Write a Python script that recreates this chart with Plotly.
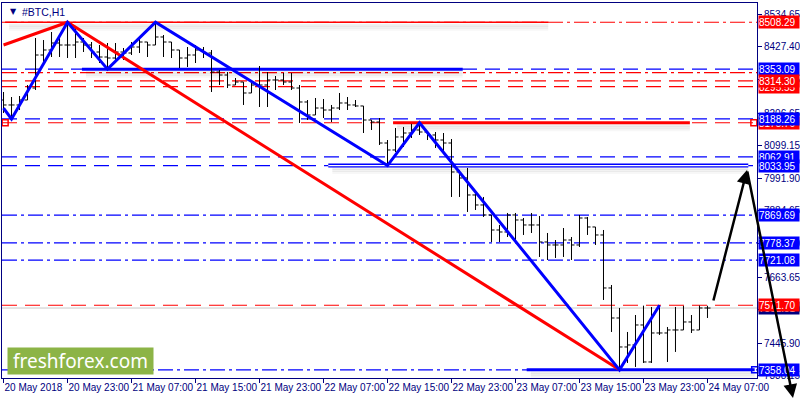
import pandas as pd
import plotly.graph_objects as go

# hourly BTC bars, 20 May 2018 15:00 .. 24 May 2018 07:00
times = pd.date_range("2018-05-20 15:00", periods=89, freq="h")

opens = [8251.0, 8234.5, 8234.5, 8251.0, 8290.7, 8399.9, 8416.5, 8439.6, 8433.0, 8433.0,
         8442.9, 8433.0, 8409.8, 8393.3, 8390.0, 8409.8, 8406.5, 8426.4, 8442.9, 8433.0,
         8459.5, 8442.9, 8416.5, 8390.0, 8399.9, 8416.5, 8406.5, 8343.6, 8333.7, 8300.6,
         8310.5, 8274.2, 8300.6, 8300.6, 8317.2, 8317.2, 8310.5, 8290.7, 8244.4, 8201.4,
         8224.5, 8217.9, 8224.5, 8241.1, 8234.5, 8231.2, 8184.8, 8178.2, 8108.7, 8085.6,
         8128.6, 8141.8, 8151.7, 8145.1, 8135.2, 8118.6, 8108.7, 8012.8, 7992.9, 7936.7,
         7903.6, 7870.5, 7820.8, 7814.2, 7870.5, 7853.9, 7837.4, 7837.4, 7781.1, 7771.2,
         7771.2, 7787.7, 7771.2, 7860.5, 7830.8, 7804.3, 7628.9, 7529.6, 7433.7, 7440.3,
         7506.5, 7384.0, 7480.0, 7480.0, 7489.9, 7489.9, 7516.4, 7489.9, 7562.7]
highs = [8277.5, 8260.9, 8264.2, 8300.6, 8456.2, 8449.5, 8476.0, 8466.1, 8508.29, 8489.2,
         8456.2, 8442.9, 8433.0, 8439.6, 8439.6, 8423.1, 8442.9, 8456.2, 8442.9, 8508.29,
         8466.1, 8442.9, 8416.5, 8426.4, 8433.0, 8426.4, 8416.5, 8350.3, 8343.6, 8323.8,
         8310.5, 8317.2, 8363.5, 8343.6, 8330.4, 8340.3, 8340.3, 8300.6, 8251.0, 8257.6,
         8254.3, 8234.5, 8274.2, 8260.9, 8251.0, 8231.2, 8184.8, 8191.4, 8118.6, 8158.4,
         8161.7, 8172.0, 8175.76, 8145.1, 8145.1, 8141.8, 8121.9, 8019.4, 8026.0, 7946.6,
         7930.1, 7870.5, 7837.4, 7877.1, 7877.1, 7860.5, 7877.1, 7867.2, 7810.9, 7787.7,
         7827.4, 7797.6, 7870.5, 7863.9, 7830.8, 7820.8, 7638.8, 7562.7, 7483.3, 7539.5,
         7570.5, 7566.0, 7571.70, 7499.8, 7566.0, 7569.8, 7539.5, 7570.9, 7570.2]
lows = [8208.0, 8188.26, 8217.9, 8251.0, 8284.1, 8366.8, 8393.3, 8393.3, 8390.0, 8390.0,
        8409.8, 8390.0, 8373.4, 8353.09, 8383.4, 8383.4, 8399.9, 8406.5, 8393.3, 8433.0,
        8393.3, 8390.0, 8356.9, 8360.2, 8373.4, 8390.0, 8277.5, 8300.6, 8290.7, 8300.6,
        8234.5, 8274.2, 8227.8, 8227.8, 8284.1, 8300.6, 8284.1, 8174.9, 8184.8, 8201.4,
        8191.4, 8178.2, 8217.9, 8217.9, 8227.8, 8141.8, 8151.7, 8102.1, 8033.95, 8078.9,
        8095.5, 8125.3, 8135.2, 8118.6, 8092.2, 8075.6, 7930.1, 7930.1, 7880.4, 7887.0,
        7863.9, 7781.1, 7781.1, 7797.6, 7781.1, 7804.3, 7810.9, 7731.5, 7721.5, 7728.2,
        7731.5, 7721.5, 7764.5, 7804.3, 7771.2, 7589.2, 7483.3, 7358.04, 7380.7, 7367.5,
        7380.7, 7380.7, 7473.4, 7384.0, 7417.2, 7489.9, 7480.0, 7489.9, 7529.6]
closes = [8234.5, 8234.5, 8251.0, 8290.7, 8399.9, 8416.5, 8439.6, 8433.0, 8433.0, 8442.9,
          8433.0, 8409.8, 8393.3, 8390.0, 8409.8, 8406.5, 8426.4, 8442.9, 8433.0, 8459.5,
          8442.9, 8416.5, 8390.0, 8399.9, 8416.5, 8406.5, 8343.6, 8333.7, 8300.6, 8310.5,
          8274.2, 8300.6, 8300.6, 8317.2, 8317.2, 8310.5, 8290.7, 8244.4, 8201.4, 8224.5,
          8217.9, 8224.5, 8241.1, 8234.5, 8231.2, 8184.8, 8178.2, 8108.7, 8085.6, 8128.6,
          8141.8, 8151.7, 8145.1, 8135.2, 8118.6, 8108.7, 8012.8, 7992.9, 7936.7, 7903.6,
          7870.5, 7820.8, 7814.2, 7870.5, 7853.9, 7837.4, 7837.4, 7781.1, 7771.2, 7771.2,
          7787.7, 7771.2, 7860.5, 7830.8, 7804.3, 7628.9, 7529.6, 7433.7, 7440.3, 7506.5,
          7384.0, 7480.0, 7480.0, 7489.9, 7489.9, 7516.4, 7489.9, 7562.7, 7562.51]

# zigzag swing points (bar index, price)
blue_zz_bars = [0, 1, 8, 13, 19, 48, 52, 77, 82]
blue_zz_prices = [8224.5, 8188.26, 8508.29, 8353.09, 8508.29, 8033.95, 8175.76, 7358.04, 7571.70]
red_zz_bars = [0, 8, 77]
red_zz_prices = [8433.0, 8508.29, 7358.04]

# horizontal levels: price, colour, dash
levels = [
    (8508.29, "#ff0000", "dashdot"), (8353.09, "#0000ff", "dash"), (8341.80, "#ff0000", "dashdot"),
    (8314.30, "#ff0000", "dash"), (8295.55, "#ff0000", "dash"), (8188.26, "#0000ff", "dash"),
    (8175.76, "#ff0000", "dash"), (8062.91, "#0000ff", "dash"), (8033.95, "#0000ff", "dash"),
    (7869.69, "#0000ff", "dashdot"), (7778.37, "#0000ff", "dashdot"), (7721.08, "#0000ff", "dashdot"),
    (7571.70, "#ff0000", "dash"), (7358.04, "#0000ff", "dashdot"),
]
bid = 7562.51

# price labels on the scale (drawn in this order, later on top)
price_labels = [
    (8295.55, "#ff0000"), (8175.76, "#ff0000"), (7562.51, "#000080"),
    (8508.29, "#ff0000"), (8353.09, "#0000ff"), (8314.30, "#ff0000"),
    (8188.26, "#0000ff"), (8062.91, "#0000ff"), (8033.95, "#0000ff"),
    (7869.69, "#0000ff"), (7778.37, "#0000ff"), (7721.08, "#0000ff"),
    (7571.70, "#ff0000"), (7358.04, "#0000ff"),
]

y_ticks = [8534.65, 8427.40, 8320.15, 8206.65, 8099.15, 7991.90, 7884.65, 7777.40,
           7663.65, 7556.40, 7445.90, 7338.15]
x_tick_bars = [0, 8, 16, 24, 32, 40, 48, 56, 64, 72, 80, 88]
x_tick_text = ["20 May 2018", "20 May 23:00", "21 May 07:00", "21 May 15:00", "21 May 23:00",
               "22 May 07:00", "22 May 15:00", "22 May 23:00", "23 May 07:00", "23 May 15:00",
               "23 May 23:00", "24 May 07:00"]

NAVY = "#000080"
FONT = "Liberation Sans"
Y0, Y1 = 7331.0, 8572.0
PLOT_H = 375
ppx = (Y1 - Y0) / PLOT_H


def t(h):
    return times[0] + pd.Timedelta(hours=h)


fig = go.Figure()

dash_map = {"dash": "15px,8px", "dashdot": "15px,4px,3px,4px"}
shapes = []
for price, col, d in levels:
    shapes.append(dict(type="line", xref="paper", x0=0, x1=1, yref="y", y0=price, y1=price,
                       line=dict(color=col, width=1.2, dash=dash_map[d]), layer="below"))
shapes.append(dict(type="line", xref="paper", x0=0, x1=1, yref="y", y0=bid, y1=bid,
                   line=dict(color="#c8c8c8", width=1), layer="below"))

# thick trend segments with a soft shadow
segments = [
    (0.2, 68.1, 8508.29, "#ff0000", 1.5),
    (9.8, 57.4, 8353.09, "#0000ff", 3),
    (48.7, 85.8, 8175.76, "#ff0000", 3),
    (40.6, 93.1, 8033.95, "#0000ff", 4),
    (65.4, 93.9, 7358.04, "#0000ff", 3),
]
for h0, h1, price, col, w in segments:
    for k, a in [(3, 0.06), (5, 0.05), (7, 0.03)]:
        shapes.append(dict(type="line", xref="x", yref="y", x0=t(h0 + 0.5), x1=t(h1),
                           y0=price - k * ppx, y1=price - k * ppx,
                           line=dict(color="rgba(0,0,0,%s)" % a, width=3), layer="below"))
    shapes.append(dict(type="line", xref="x", yref="y", x0=t(h0), x1=t(h1), y0=price, y1=price,
                       line=dict(color=col, width=w), layer="below"))
    if w == 4:
        shapes.append(dict(type="line", xref="x", yref="y", x0=t(h0), x1=t(h1), y0=price, y1=price,
                           line=dict(color="white", width=1.2), layer="below"))

fig.add_trace(go.Ohlc(x=times, open=opens, high=highs, low=lows, close=closes,
                      increasing_line_color="black", decreasing_line_color="black",
                      line_width=1, tickwidth=0.38, hoverinfo="skip", showlegend=False))

fig.add_trace(go.Scatter(x=[times[i] for i in red_zz_bars], y=red_zz_prices, mode="lines",
                         line=dict(color="#ff0000", width=3), hoverinfo="skip", showlegend=False))
fig.add_trace(go.Scatter(x=[times[i] for i in blue_zz_bars], y=blue_zz_prices, mode="lines",
                         line=dict(color="#0000ff", width=3), hoverinfo="skip", showlegend=False))

fig.add_trace(go.Scatter(x=[t(0.2), t(93.8)], y=[8175.76, 8175.76], mode="markers",
                         marker=dict(symbol="square-open", size=6, color="red", line=dict(width=1.5)),
                         cliponaxis=False, hoverinfo="skip", showlegend=False))
fig.add_trace(go.Scatter(x=[t(93.9)], y=[7358.04], mode="markers",
                         marker=dict(symbol="square-open", size=6, color="blue", line=dict(width=1.5)),
                         cliponaxis=False, hoverinfo="skip", showlegend=False))

annotations = []
for price, bg in price_labels:
    annotations.append(dict(xref="paper", x=1, xanchor="left", xshift=1, yref="y", y=price,
                            text="%.2f" % price, showarrow=False, bgcolor=bg, width=40,
                            height=12, align="left", borderpad=0,
                            font=dict(family=FONT, size=10, color="white")))

annotations.append(dict(xref="paper", yref="paper", x=0.0, y=1, xanchor="left", yanchor="top",
                        xshift=6, yshift=-2, text="▼", showarrow=False,
                        font=dict(family="DejaVu Sans", size=8, color=NAVY)))
annotations.append(dict(xref="paper", yref="paper", x=0.0, y=1, xanchor="left", yanchor="top",
                        xshift=18, yshift=-1, text="#BTC,H1", showarrow=False,
                        font=dict(family=FONT, size=10.5, color=NAVY)))

annotations.append(dict(xref="paper", yref="paper", x=0.0066, y=0.008, xanchor="left",
                        yanchor="bottom", text="freshforex.com", showarrow=False,
                        bgcolor="#8cb446", width=145, height=26, borderpad=0,
                        font=dict(family="Noto Sans", size=19, color="white")))

# forecast arrows
annotations.append(dict(xref="paper", yref="paper", x=0.9868, y=0.5547, ax=-34, ay=132,
                        text="", showarrow=True, arrowhead=2, arrowsize=1.1, arrowwidth=2.5,
                        arrowcolor="black", standoff=0))
annotations.append(dict(xref="paper", yref="paper", x=1.0477, y=-0.0533, ax=-46, ay=-228,
                        text="", showarrow=True, arrowhead=2, arrowsize=1.1, arrowwidth=2.5,
                        arrowcolor="black", standoff=0))

fig.update_layout(
    width=800, height=400,
    margin=dict(l=2, r=43, t=3, b=22, autoexpand=False),
    paper_bgcolor="white", plot_bgcolor="white",
    shapes=shapes, annotations=annotations,
    font=dict(family=FONT, size=10, color=NAVY),
)
fig.update_xaxes(type="date", range=[t(-0.19), t(94.19)], rangeslider_visible=False,
                 automargin=False, showgrid=False, zeroline=False, showline=True,
                 linecolor=NAVY, linewidth=1, mirror=True, ticks="outside", ticklen=4,
                 tickcolor=NAVY, tickvals=[times[i] for i in x_tick_bars], ticktext=x_tick_text,
                 tickangle=0, ticklabelposition="outside right",
                 tickfont=dict(family=FONT, size=10, color=NAVY))
fig.update_yaxes(side="right", range=[Y0, Y1], automargin=False, showgrid=False,
                 zeroline=False, showline=True, linecolor=NAVY, linewidth=1, mirror=True,
                 ticks="outside", ticklen=4, tickcolor=NAVY,
                 tickvals=y_ticks, ticktext=["%.2f" % v for v in y_ticks],
                 tickfont=dict(family=FONT, size=10, color=NAVY))

fig.write_html("out.html", config={"displayModeBar": False},
               post_script="document.body.style.margin='0';document.body.style.overflow='hidden';")
